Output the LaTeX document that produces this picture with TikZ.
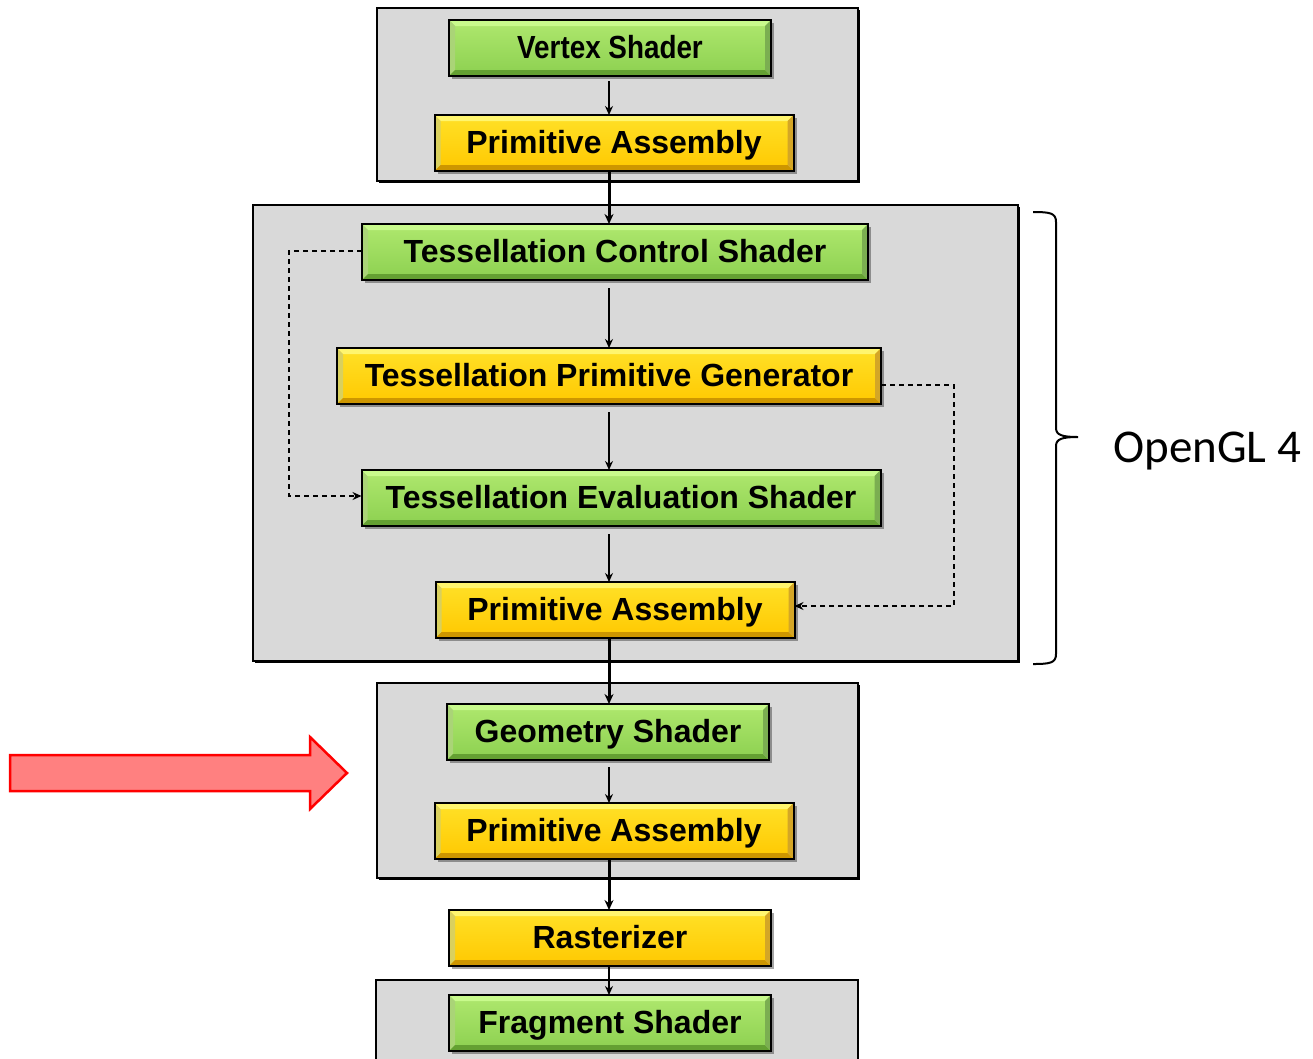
\documentclass[tikz,border=0pt]{standalone}
\usepackage{fontspec}
\newfontfamily\arialfont{Liberation Sans}
\newfontfamily\calibrifont{Carlito}
\usetikzlibrary{arrows.meta,shadows}
\definecolor{grpgray}{RGB}{217,217,217}
\definecolor{gtop}{RGB}{175,232,110}
\definecolor{gbot}{RGB}{140,208,80}
\definecolor{glight}{RGB}{200,250,140}
\definecolor{gdark}{RGB}{100,160,50}
\definecolor{ytop}{RGB}{255,225,40}
\definecolor{ybot}{RGB}{255,200,0}
\definecolor{ylight}{RGB}{255,245,110}
\definecolor{ydark}{RGB}{205,150,0}
\definecolor{redfill}{RGB}{255,128,128}
\tikzset{
  stagebox/.style={draw=black, line width=2pt, minimum height=56pt, inner sep=0pt, outer sep=0pt,
    text height=23pt, text depth=2pt,
    font=\arialfont\bfseries\fontsize{32}{36}\selectfont,
    drop shadow={shadow xshift=3pt, shadow yshift=-3pt, fill=black, opacity=0.35}},
  bevel/.style 2 args={path picture={
    \coordinate (bsw) at (path picture bounding box.south west);
    \coordinate (bne) at (path picture bounding box.north east);
    \fill[#1] (bsw |- bne) -- (bne) -- ([shift={(-6pt,-6pt)}]bne) -- ([shift={(6pt,-6pt)}]bsw |- bne) -- cycle;
    \fill[#1!85!black] (bsw) -- (bsw |- bne) -- ([shift={(6pt,-6pt)}]bsw |- bne) -- ([shift={(6pt,6pt)}]bsw) -- cycle;
    \fill[#2] (bsw) -- (bsw -| bne) -- ([shift={(-6pt,6pt)}]bsw -| bne) -- ([shift={(6pt,6pt)}]bsw) -- cycle;
    \fill[#2!85!white] (bne) -- (bsw -| bne) -- ([shift={(-6pt,6pt)}]bsw -| bne) -- ([shift={(-6pt,-6pt)}]bne) -- cycle;
  }},
  shaderbox/.style={stagebox, top color=gtop, bottom color=gbot, bevel={glight}{gdark}},
  fixedbox/.style={stagebox, top color=ytop, bottom color=ybot, bevel={ylight}{ydark}},
  groupbox/.style={fill=grpgray, draw=black, line width=2.5pt},
  grpshadow/.style={fill=black},
  thinarrow/.style={draw=black, line width=1.5pt, -{Stealth[length=9pt,width=8pt]}},
  thickarrow/.style={draw=black, line width=3pt, -{Stealth[length=10pt,width=9pt]}},
  dasharrow/.style={draw=black, line width=1.4pt, dash pattern=on 5pt off 4pt, -{Stealth[length=9pt,width=8pt]}},
}
\begin{document}
\begin{tikzpicture}[x=1pt,y=-1pt]
\useasboundingbox (0,0) rectangle (1313,1058);
\fill[white] (0,0) rectangle (1313,1058);
% groups
\fill[grpshadow] (379,10) rectangle (860,183);
\draw[groupbox] (377,8) rectangle (858,181);
\fill[grpshadow] (255,207) rectangle (1020,663);
\draw[groupbox] (253,205) rectangle (1018,661);
\fill[grpshadow] (379,685) rectangle (860,880);
\draw[groupbox] (377,683) rectangle (858,878);
\draw[groupbox] (376,980) rectangle (858,1075);
% axis
\coordinate (axis) at (609,0);
% stages
\node[shaderbox, minimum width=322pt] (VS) at (610,48) {\scalebox{0.87}[1]{Vertex Shader}};
\node[fixedbox, minimum width=359pt] (PA1) at (614,143) {Primitive Assembly};
\node[shaderbox, minimum width=506pt] (TCS) at (615,252) {Tessellation Control Shader};
\node[fixedbox, minimum width=544pt] (TPG) at (609,376) {Tessellation Primitive Generator};
\node[shaderbox, minimum width=519pt] (TES) at (621,498) {Tessellation Evaluation Shader};
\node[fixedbox, minimum width=359pt] (PA2) at (615,610) {Primitive Assembly};
\node[shaderbox, minimum width=322pt] (GS) at (608,732) {Geometry Shader};
\node[fixedbox, minimum width=359pt] (PA3) at (614,831) {Primitive Assembly};
\node[fixedbox, minimum width=322pt] (RAS) at (610,938) {Rasterizer};
\node[shaderbox, minimum width=322pt] (FS) at (610,1023) {Fragment Shader};
% connectors
\draw[thinarrow] ([yshift=-5pt]VS.south -| axis) -- (PA1.north -| axis);
\draw[thickarrow] (PA1.south -| axis) -- (TCS.north -| axis);
\draw[thinarrow] ([yshift=-8pt]TCS.south -| axis) -- (TPG.north -| axis);
\draw[thinarrow] ([yshift=-8pt]TPG.south -| axis) -- (TES.north -| axis);
\draw[thinarrow] ([yshift=-8pt]TES.south -| axis) -- (PA2.north -| axis);
\draw[thickarrow] (PA2.south -| axis) -- (GS.north -| axis);
\draw[thinarrow] ([yshift=-7pt]GS.south -| axis) -- (PA3.north -| axis);
\draw[thickarrow] (PA3.south -| axis) -- (RAS.north -| axis);
\draw[thinarrow, line width=2pt] (RAS.south -| axis) -- (FS.north -| axis);
\draw[dasharrow, line width=1.8pt] ([yshift=1pt]TCS.west) -- ++(-73,0) |- ([yshift=2pt]TES.west);
\draw[dasharrow] ([yshift=-9pt]TPG.east) -- ++(73,0) |- ([yshift=4pt]PA2.east);
% red arrow
\draw[fill=redfill, draw=red, line width=2.5pt, line join=miter]
  (10,755) -- (310,755) -- (310,737) -- (347,773) -- (310,809) -- (310,791) -- (10,791) -- cycle;
% brace
\draw[line width=2pt] (1033,212) .. controls (1050,212) and (1056,213) .. (1056,222) -- (1056,428)
  .. controls (1056,435) and (1062,437) .. (1078,437)
  .. controls (1062,437) and (1056,439) .. (1056,446) -- (1056,654)
  .. controls (1056,663) and (1050,664) .. (1033,664);
\node[anchor=base west, inner sep=0pt, font=\calibrifont\fontsize{47}{50}\selectfont] (ogl) at (1113,462) {OpenGL 4};
\end{tikzpicture}
\end{document}
